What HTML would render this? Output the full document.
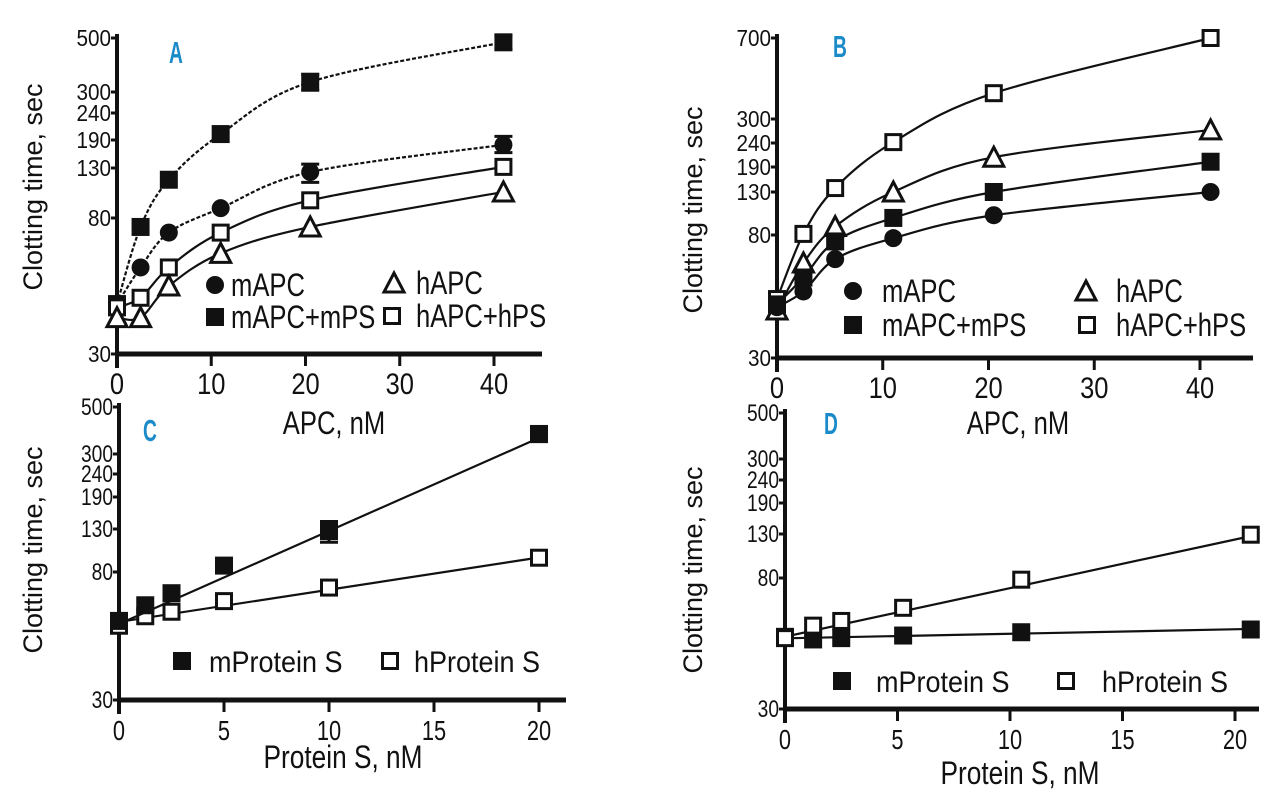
<!DOCTYPE html>
<html><head><meta charset="utf-8"><style>
html,body{margin:0;padding:0;background:#fff;}
svg{display:block;}
text{font-family:"Liberation Sans",sans-serif;fill:#111;}
</style></head><body>
<svg id="fig" width="1280" height="812" viewBox="0 0 1280 812" xmlns="http://www.w3.org/2000/svg"></svg>
<script>
// ---- data ----
const xApc = [0, 2.5, 5.5, 11, 20.5, 41];
const aMapc = [43, 56, 72, 88, 125, 178];
const aMapcMps = [43, 75, 116, 200, 330, 480];
const aHapc = [39, 39, 49, 62, 75, 103];
const aHapcHps = [42, 45, 56, 72, 95, 132];
const aErrMapc = [0, 0, 0, 0, 12, 18];
const aErrMapcMps = [0, 0, 0, 0, 25, 30];
const bMapc = [45, 51, 66, 78, 100, 130];
const bMapcMps = [46, 57, 76, 97, 130, 200];
const bHapc = [44, 64, 88, 130, 209, 271];
const bHapcHps = [48, 81, 138, 242, 393, 700];
const xPsC = [0, 1.25, 2.5, 5, 10, 20];
const cMps = [55, 62, 68, 86, 127, 373];
const cHps = [53, 57, 59, 64, 71, 94];
const cErrMps = [0, 0, 0, 0, 15, 30];
const xPsD = [0, 1.25, 2.5, 5.25, 10.5, 20.7];
const dMps = [51.5, 50.5, 51, 52, 53.3, 54.4];
const dHps = [51, 56, 58, 64, 79, 129];
const yTicksAcd = [30, 80, 130, 190, 240, 300, 500];
const yTicksB = [30, 80, 130, 190, 240, 300, 700];
const xTicksApc = [0, 10, 20, 30, 40];
const xTicksPs = [0, 5, 10, 15, 20];

// ---- layout ----
const panels = {
  A:{x0:117,x1:542,xmax:40,xEnd:494,yb:354,tickPx:[354,218,168,140,113,92,38],yt:yTicksAcd,xt:xTicksApc,ys:23,ysx:0.9,xs:30,xsx:0.85},
  B:{x0:777,x1:1253,xmax:40,xEnd:1200,yb:358,tickPx:[358,235,192,167,143,119,38],yt:yTicksB,xt:xTicksApc,ys:23,ysx:0.9,xs:30,xsx:0.85},
  C:{x0:119,x1:566,xmax:20,xEnd:539,yb:700,tickPx:[700,572,529,497,474,454,407],yt:yTicksAcd,xt:xTicksPs,ys:24,ysx:0.8,xs:28,xsx:0.78},
  D:{x0:785,x1:1259,xmax:20,xEnd:1235,yb:709,tickPx:[709,578,534,503,480,459,413],yt:yTicksAcd,xt:xTicksPs,ys:24,ysx:0.8,xs:28,xsx:0.78}
};
const NS="http://www.w3.org/2000/svg";
const svg=document.getElementById('fig');
function mk(tag,attrs,parent){const e=document.createElementNS(NS,tag);for(const k in attrs)e.setAttribute(k,attrs[k]);(parent||svg).appendChild(e);return e;}
function xs(p,v){return p.x0+(p.xEnd-p.x0)*v/p.xmax;}
function ys(p,v){const t=p.yt,px=p.tickPx;let i=0;
  if(v<=t[0])i=0;else{i=t.length-2;for(let k=0;k<t.length-1;k++){if(v<=t[k+1]){i=k;break;}}}
  const f=(Math.log(v)-Math.log(t[i]))/(Math.log(t[i+1])-Math.log(t[i]));
  return px[i]+(px[i+1]-px[i])*f;}
function ctext(str,x,y,size,anchor,sx,parent){const t=mk('text',{transform:`translate(${x},${y}) scale(${sx},1)`,'font-size':size,'text-anchor':anchor},parent);t.textContent=str;return t;}

function marker(kind,x,y,g){const s=9;
  if(kind==='circle')return mk('circle',{cx:x,cy:y,r:9,fill:'#111'},g);
  if(kind==='fsq')return mk('rect',{x:x-s,y:y-s,width:2*s,height:2*s,fill:'#111'},g);
  if(kind==='osq')return mk('rect',{x:x-s+1.5,y:y-s+1.5,width:2*s-3,height:2*s-3,fill:'#fff',stroke:'#111','stroke-width':3},g);
  if(kind==='tri')return mk('polygon',{points:`${x},${y-10} ${x+10},${y+9} ${x-10},${y+9}`,fill:'#fff',stroke:'#111','stroke-width':3},g);}

function smoothPath(pts){let d=`M${pts[0][0]},${pts[0][1]}`;
  for(let i=0;i<pts.length-1;i++){const p0=pts[Math.max(0,i-1)],p1=pts[i],p2=pts[i+1],p3=pts[Math.min(pts.length-1,i+2)];
    const c1=[p1[0]+(p2[0]-p0[0])/6,p1[1]+(p2[1]-p0[1])/6],c2=[p2[0]-(p3[0]-p1[0])/6,p2[1]-(p3[1]-p1[1])/6];
    d+=` C${c1[0]},${c1[1]} ${c2[0]},${c2[1]} ${p2[0]},${p2[1]}`;}return d;}

function series(p,name,xsArr,ysArr,kind,dash,smooth,errs){
  const g=mk('g',{});
  
  
  const pts=xsArr.map((x,i)=>[xs(p,x),ys(p,ysArr[i])]);
  let d;
  if(smooth)d=smoothPath(pts);else d=`M${pts[0][0]},${pts[0][1]} L${pts[pts.length-1][0]},${pts[pts.length-1][1]}`;
  const line=mk('path',{d:d,fill:'none',stroke:'#111','stroke-width':2.2,'stroke-dasharray':dash?'4,2':'none'},g);
  
  
  if(!smooth){
    const n=xsArr.length;let sx=0,sy=0,sxx=0,sxy=0;
    xsArr.forEach((x,i)=>{const yv=Math.log(ysArr[i]);sx+=x;sy+=yv;sxx+=x*x;sxy+=x*yv;});
    const b=(n*sxy-sx*sy)/(n*sxx-sx*sx),a=(sy-b*sx)/n;
    const xa=xsArr[0],xb=xsArr[n-1];
    line.setAttribute('d',`M${xs(p,xa)},${ys(p,Math.exp(a+b*xa))} L${xs(p,xb)},${ys(p,Math.exp(a+b*xb))}`);}
  pts.forEach((pt,i)=>{
    if(errs&&errs[i]>0){const yt=ys(p,ysArr[i]+errs[i]),yb=ys(p,ysArr[i]-errs[i]);
      const e=mk('path',{d:`M${pt[0]},${yt} V${yb} M${pt[0]-9},${yt} H${pt[0]+9} M${pt[0]-9},${yb} H${pt[0]+9}`,stroke:'#111','stroke-width':3,fill:'none'},g);
      
      }
    const m=marker(kind,pt[0],pt[1],g);
    
    
  });
}

function axes(key,xTitle,xTitleX,xTitleY,xTitleSx,yTitleX,yTitleY,letterX,letterY){
  const p=panels[key];
  const g=mk('g',{});
  
  
  const topY=Math.min(...p.tickPx)-4;
  mk('line',{x1:p.x0,y1:topY,x2:p.x0,y2:p.yb+14,stroke:'#111','stroke-width':4},g);
  mk('line',{x1:p.x0-2,y1:p.yb,x2:p.x1,y2:p.yb,stroke:'#111','stroke-width':5},g);
  p.yt.forEach((v,i)=>{const y=ys(p,v);
    mk('line',{x1:p.x0-6,y1:y,x2:p.x0,y2:y,stroke:'#111','stroke-width':3},g);
    const t=ctext(String(v),p.x0-6,y+8,p.ys,'end',p.ysx,g);
    
    });
  p.xt.forEach(v=>{const x=xs(p,v);
    mk('line',{x1:x,y1:p.yb,x2:x,y2:p.yb+12,stroke:'#111','stroke-width':3},g);
    const t=ctext(String(v),x,p.yb+40,p.xs,'middle',p.xsx,g);
    
    });
  const xt=ctext(xTitle,xTitleX,xTitleY,32,'middle',xTitleSx,g);
  
  
  const yt=mk('text',{transform:`translate(${yTitleX},${yTitleY}) rotate(-90)`,'font-size':27,'text-anchor':'middle'},g);
  yt.textContent='Clotting time, sec';
  
  
  const L=ctext(key,letterX,letterY,31,'middle',0.62,g);
  L.setAttribute('font-weight','bold');L.style.fill='#1a8ac8';
  
  
}

function legend(items,size,sx){items.forEach(it=>{
  const g=mk('g',{});
  
  
  marker(it[0],it[1],it[2],g);
  ctext(it[3],it[4],it[2]+11,size,'start',sx,g);});}

axes('A','APC, nM',334,434,0.8,42,187,176,63);
axes('B','APC, nM',1018,434,0.8,702,210,840,57);
axes('C','Protein S, nM',343,768,0.82,42,550,150,441);
axes('D','Protein S, nM',1020,784,0.82,702,570,831,434);

const A=panels.A,B=panels.B,C=panels.C,D=panels.D;
series(A,'a-mapc-mps',xApc,aMapcMps,'fsq',true,true,aErrMapcMps);
series(A,'a-mapc',xApc,aMapc,'circle',true,true,aErrMapc);
series(A,'a-hapc-hps',xApc,aHapcHps,'osq',false,true,null);
series(A,'a-hapc',xApc,aHapc,'tri',false,true,null);
series(B,'b-hapc-hps',xApc,bHapcHps,'osq',false,true,null);
series(B,'b-hapc',xApc,bHapc,'tri',false,true,null);
series(B,'b-mapc-mps',xApc,bMapcMps,'fsq',false,true,null);
series(B,'b-mapc',xApc,bMapc,'circle',false,true,null);
series(C,'c-hprotein-s',xPsC,cHps,'osq',false,false,null);
series(C,'c-mprotein-s',xPsC,cMps,'fsq',false,false,cErrMps);
series(D,'d-mprotein-s',xPsD,dMps,'fsq',false,false,null);
series(D,'d-hprotein-s',xPsD,dHps,'osq',false,false,null);

legend([['circle',215,285,'mAPC',231],['tri',394,283,'hAPC',416],['fsq',215,317,'mAPC+mPS',231],['osq',392,316,'hAPC+hPS',416],
        ['circle',853,291,'mAPC',882],['tri',1086,291,'hAPC',1116],['fsq',853,325,'mAPC+mPS',882],['osq',1087,325,'hAPC+hPS',1116]],32,0.8);
legend([['fsq',182,661,'mProtein S',209],['osq',390,661,'hProtein S',414],
        ['fsq',842,681,'mProtein S',876],['osq',1066,681,'hProtein S',1102]],30,0.9);
</script>
</body></html>
